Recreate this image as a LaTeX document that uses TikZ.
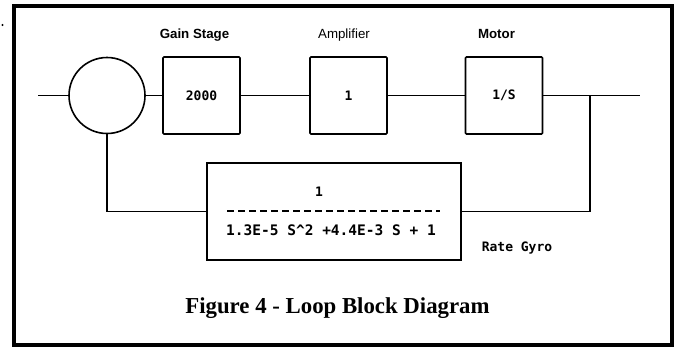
\documentclass[tikz,border=0pt]{standalone}
\usepackage{fontspec}
\setmainfont{Liberation Serif}
\newfontfamily\arialf{Liberation Sans}
\newfontfamily\dotf{DejaVu Sans Mono}
\begin{document}
\begin{tikzpicture}[x=1pt,y=-1pt,
  blk/.style={draw, line width=1.6pt, minimum width=77pt, minimum height=77pt, inner sep=0pt, rounded corners=1pt},
  wire/.style={line width=1.6pt},
  lbl/.style={font=\arialf\bfseries\fontsize{13.3}{14}\selectfont, anchor=base, inner sep=0pt},
  lblr/.style={font=\arialf\fontsize{13.3}{14}\selectfont, anchor=base, inner sep=0pt},
  dottxt/.style={font=\dotf\bfseries\fontsize{13}{14}\selectfont},
  dotbig/.style={font=\dotf\bfseries\fontsize{14.5}{16}\selectfont, anchor=base, inner sep=0pt}]
\useasboundingbox (0,0) rectangle (682,349);
\draw[line width=3.5pt] (14,6) rectangle (672,345);
\fill (2.5,25) circle (1.1pt);
% blocks
\node[circle, draw, line width=1.6pt, minimum size=76pt, inner sep=0pt] (sum) at (107,95.5) {};
\node[blk, dottxt] (gain) at (201.5,95.5) {2000};
\node[blk, dottxt] (amp) at (348.5,95.5) {1};
\node[blk, dottxt] (mot) at (504,95.5) {1/S};
\node[draw, line width=1.6pt, minimum width=254pt, minimum height=97pt, inner sep=0pt] (fb) at (334,211.5) {};
% labels
\node[lbl] (lgain) at (194.5,38) {Gain Stage};
\node[lblr] (lamp) at (344,38) {Amplifier};
\node[lbl] (lmot) at (496.5,38) {Motor};
\node[dottxt] (lgyro) at (517,248) {Rate Gyro};
% feedback transfer function
\node[dottxt] (num) at (319,192) {1};
\draw[line width=1.2pt, dash pattern=on 7pt off 4pt] (227,211) -- (440,211);
\node[dotbig] (den) at (331,235) {1.3E-5 S\^{}2 +4.4E-3 S + 1};
% connectors
\coordinate (in) at (38,95.5);
\coordinate (br) at (590,95.5);
\coordinate (out) at (640,95.5);
\draw[wire] (in) -- (sum.west);
\draw[wire] (sum.east) -- (gain.west);
\draw[wire] (gain.east) -- (amp.west);
\draw[wire] (amp.east) -- (mot.west);
\draw[wire] (mot.east) -- (out);
\draw[wire] (br) |- (fb.east);
\draw[wire] (fb.west) -| (sum.south);
% caption
\node[font=\bfseries\fontsize{22.8}{26}\selectfont, anchor=base, inner sep=0pt] (cap) at (337.5,313.5) {Figure 4 - Loop Block Diagram};
\end{tikzpicture}
\end{document}
